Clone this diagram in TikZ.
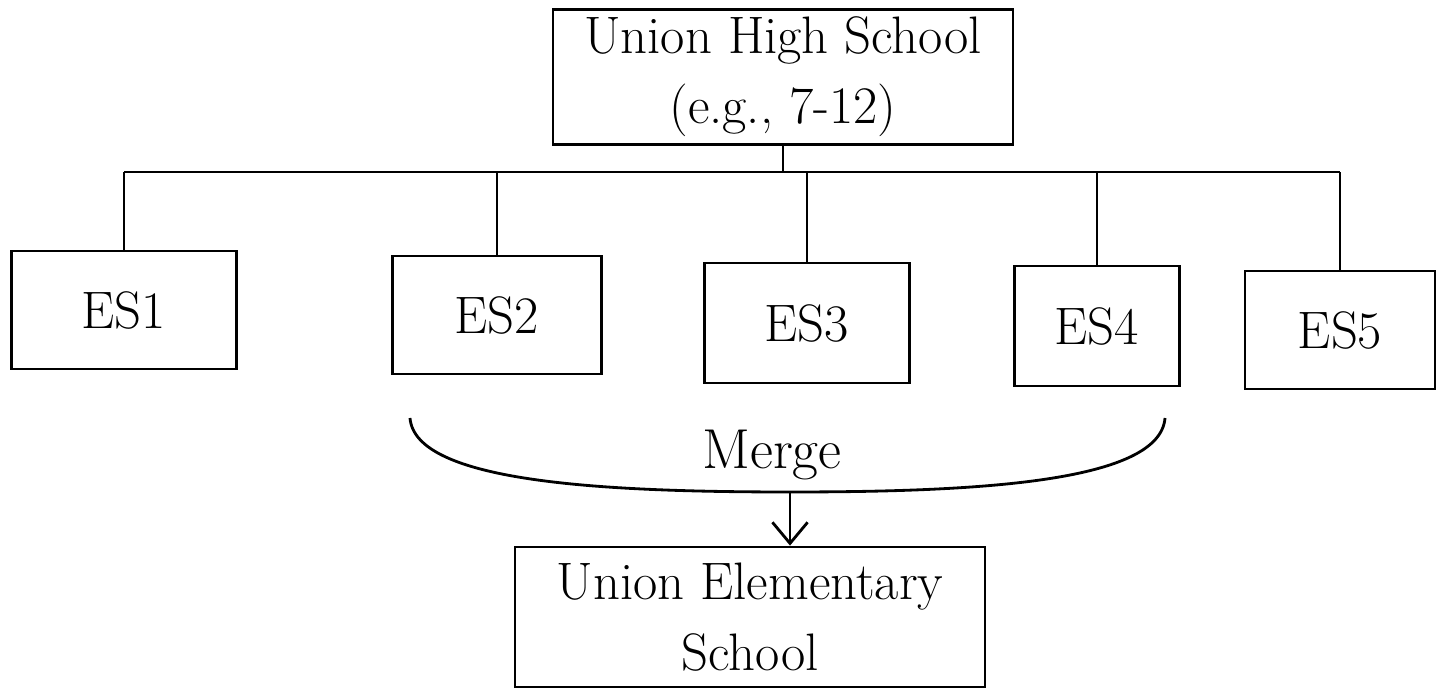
\documentclass[tikz,border=0pt]{standalone}
\usetikzlibrary{arrows.meta}
\begin{document}
\begin{tikzpicture}[x=0.01cm,y=-0.01cm,
  box/.style={draw, line width=0.8pt, rectangle, align=center, inner sep=0pt},
  conn/.style={line width=0.8pt},
  lbl/.style={font=\fontsize{15}{20}\selectfont}]
\useasboundingbox (0,0) rectangle (1446,698);
\node[box, lbl, minimum width=460*0.01cm, minimum height=135*0.01cm] (hs) at (783,77) {Union High School\\(e.g., 7-12)};
\node[box, lbl, minimum width=225*0.01cm, minimum height=118*0.01cm] (es1) at (124,310) {ES1};
\node[box, lbl, minimum width=209*0.01cm, minimum height=118*0.01cm] (es2) at (497,315) {ES2};
\node[box, lbl, minimum width=205*0.01cm, minimum height=120*0.01cm] (es3) at (807,323) {ES3};
\node[box, lbl, minimum width=165*0.01cm, minimum height=120*0.01cm] (es4) at (1097,326) {ES4};
\node[box, lbl, minimum width=190*0.01cm, minimum height=118*0.01cm] (es5) at (1340,330) {ES5};
\node[box, lbl, minimum width=470*0.01cm, minimum height=140*0.01cm] (ue) at (750,617) {Union Elementary\\School};
\coordinate (busL) at (124,172);
\coordinate (busR) at (1340,172);
\draw[conn] (busL) -- (busR);
\draw[conn] (hs.south) -- (hs.south |- busL);
\foreach \n in {es1,es2,es3,es4,es5} \draw[conn] (\n.north) -- (\n.north |- busL);
\coordinate (cL) at (410,418);
\coordinate (cR) at (1165,418);
\coordinate (cM) at (790,492);
\draw[conn] (cL) .. controls (415,482) and (600,492) .. (cM) .. controls (980,492) and (1160,482) .. (cR);
\node[font=\fontsize{16}{20}\selectfont] (mg) at (772,455) {Merge};
\draw[conn, -{Straight Barb[length=6pt,width=10pt]}] (cM) -- (ue.north -| cM);
\end{tikzpicture}
\end{document}
